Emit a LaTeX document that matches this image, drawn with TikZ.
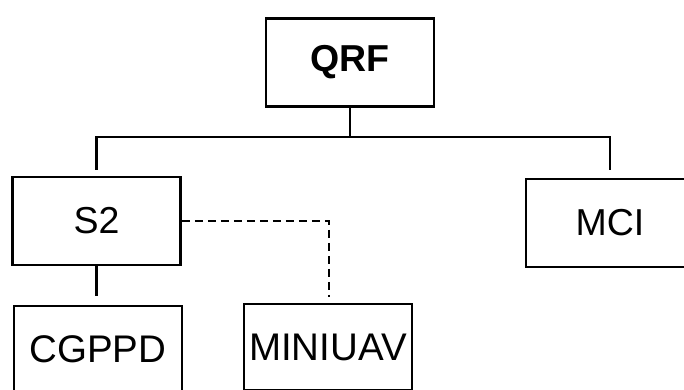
\documentclass[tikz,border=0pt]{standalone}
\usepackage{fontspec}
\setmainfont{Liberation Sans}
\begin{document}
\begin{tikzpicture}[x=1pt,y=-1pt,
  unit/.style={draw=black, line width=2.5pt, fill=white, inner sep=0pt,
    minimum width=168pt, minimum height=88pt,
    font=\fontsize{37.5}{42}\selectfont},
  link/.style={draw=black, line width=2.5pt, line join=miter},
  dotted link/.style={link, dash pattern=on 8pt off 5pt}]
  \useasboundingbox (0,0) rectangle (684,390);

  % command tree
  \node[unit, font=\fontsize{37.5}{42}\selectfont\bfseries] (qrf) at (350,62.5) {QRF};
  \node[unit] (s2) at (96.5,221) {S2};
  \node[unit] (mci) at (610,223) {MCI};
  \node[unit, minimum height=86pt, font=\fontsize{38.5}{42}\selectfont] (cgppd) at (98,349) {CGPPD};
  \node[unit, minimum height=86pt, font=\fontsize{38.5}{42}\selectfont] (miniuav) at (328,347) {MINIUAV};

  % horizontal bus under the headquarters, with drops stopping short of the boxes
  \coordinate (busL) at (96.5,137);
  \coordinate (busR) at (610,137);
  \draw[link] (qrf.south) -- (qrf.south |- busL);
  \draw[link, shorten <=6pt, shorten >=8pt] (s2.north) -- (busL) -- (busR) -- (mci.north);

  % subordinate links
  \draw[link, shorten >=9pt] (s2.south) -- (cgppd.north -| s2.south);
  \draw[dotted link, shorten >=6pt] (s2.east) -| ([xshift=1pt]miniuav.north);
\end{tikzpicture}
\end{document}
